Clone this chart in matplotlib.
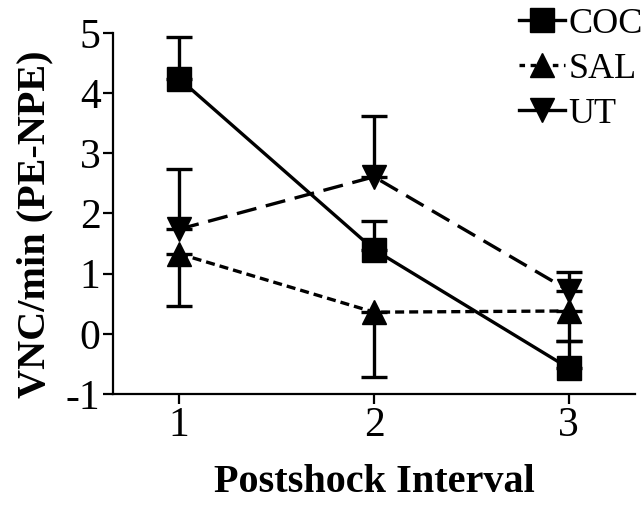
import numpy as np
import matplotlib
matplotlib.use("Agg")
import matplotlib.pyplot as plt
from matplotlib.lines import Line2D

plt.rcParams['font.family'] = ['Liberation Serif', 'DejaVu Serif']
plt.rcParams['lines.scale_dashes'] = False
plt.rcParams['axes.unicode_minus'] = False

interval = [1, 2, 3]

coc = [4.24, 1.40, -0.57]
coc_up = [0.69, 0.47, 0.45]

sal = [1.33, 0.36, 0.38]
sal_down = [0.87, 1.07, 0.50]

ut = [1.74, 2.61, 0.72]
ut_up = [1.00, 1.01, 0.31]

fig = plt.figure(figsize=(6.44, 5.07), dpi=100)
ax = fig.add_axes([0.1755, 0.2229, 0.8105, 0.712])

lw = 2.4
ms = 17
common = dict(color='black', linewidth=lw, elinewidth=lw, capsize=9.5, capthick=lw,
              markersize=ms, clip_on=False)

ax.errorbar(interval, coc, yerr=[np.zeros(3), coc_up], marker='s',
            linestyle='-', **common)
ax.errorbar(interval, sal, yerr=[sal_down, np.zeros(3)], marker='^',
            dashes=(6.5, 3.6), **common)
ax.errorbar(interval, ut, yerr=[np.zeros(3), ut_up], marker='v',
            dashes=(14.5, 7), **common)

ax.set_xlim(0.66, 3.34)
ax.set_ylim(-1, 5)
ax.set_xticks([1, 2, 3])
ax.set_yticks(range(-1, 6))

for s in ['top', 'right']:
    ax.spines[s].set_visible(False)
for s in ['left', 'bottom']:
    ax.spines[s].set_linewidth(1.6)

ax.tick_params(axis='both', direction='out', length=7, width=1.6, labelsize=30, pad=2)

ax.set_xlabel('Postshock Interval', fontsize=29, fontweight='bold', labelpad=14)
ax.set_ylabel('VNC/min (PE-NPE)', fontsize=29, fontweight='bold')
ax.yaxis.set_label_coords(-0.115, 0.47)

handles = [
    Line2D([], [], color='black', lw=lw, marker='s', ms=ms, linestyle='-'),
    Line2D([], [], color='black', lw=lw, marker='^', ms=ms, dashes=(4, 4)),
    Line2D([], [], color='black', lw=lw, marker='v', ms=ms, linestyle='-'),
]
fig.legend(handles, ['COC', 'SAL', 'UT'], loc='upper right',
           bbox_to_anchor=(0.998, 0.985), frameon=False,
           fontsize=26, handlelength=1.3, handletextpad=0.08,
           labelspacing=0.32, borderpad=0.0, borderaxespad=0.0)

fig.savefig('out.png', dpi=100)
